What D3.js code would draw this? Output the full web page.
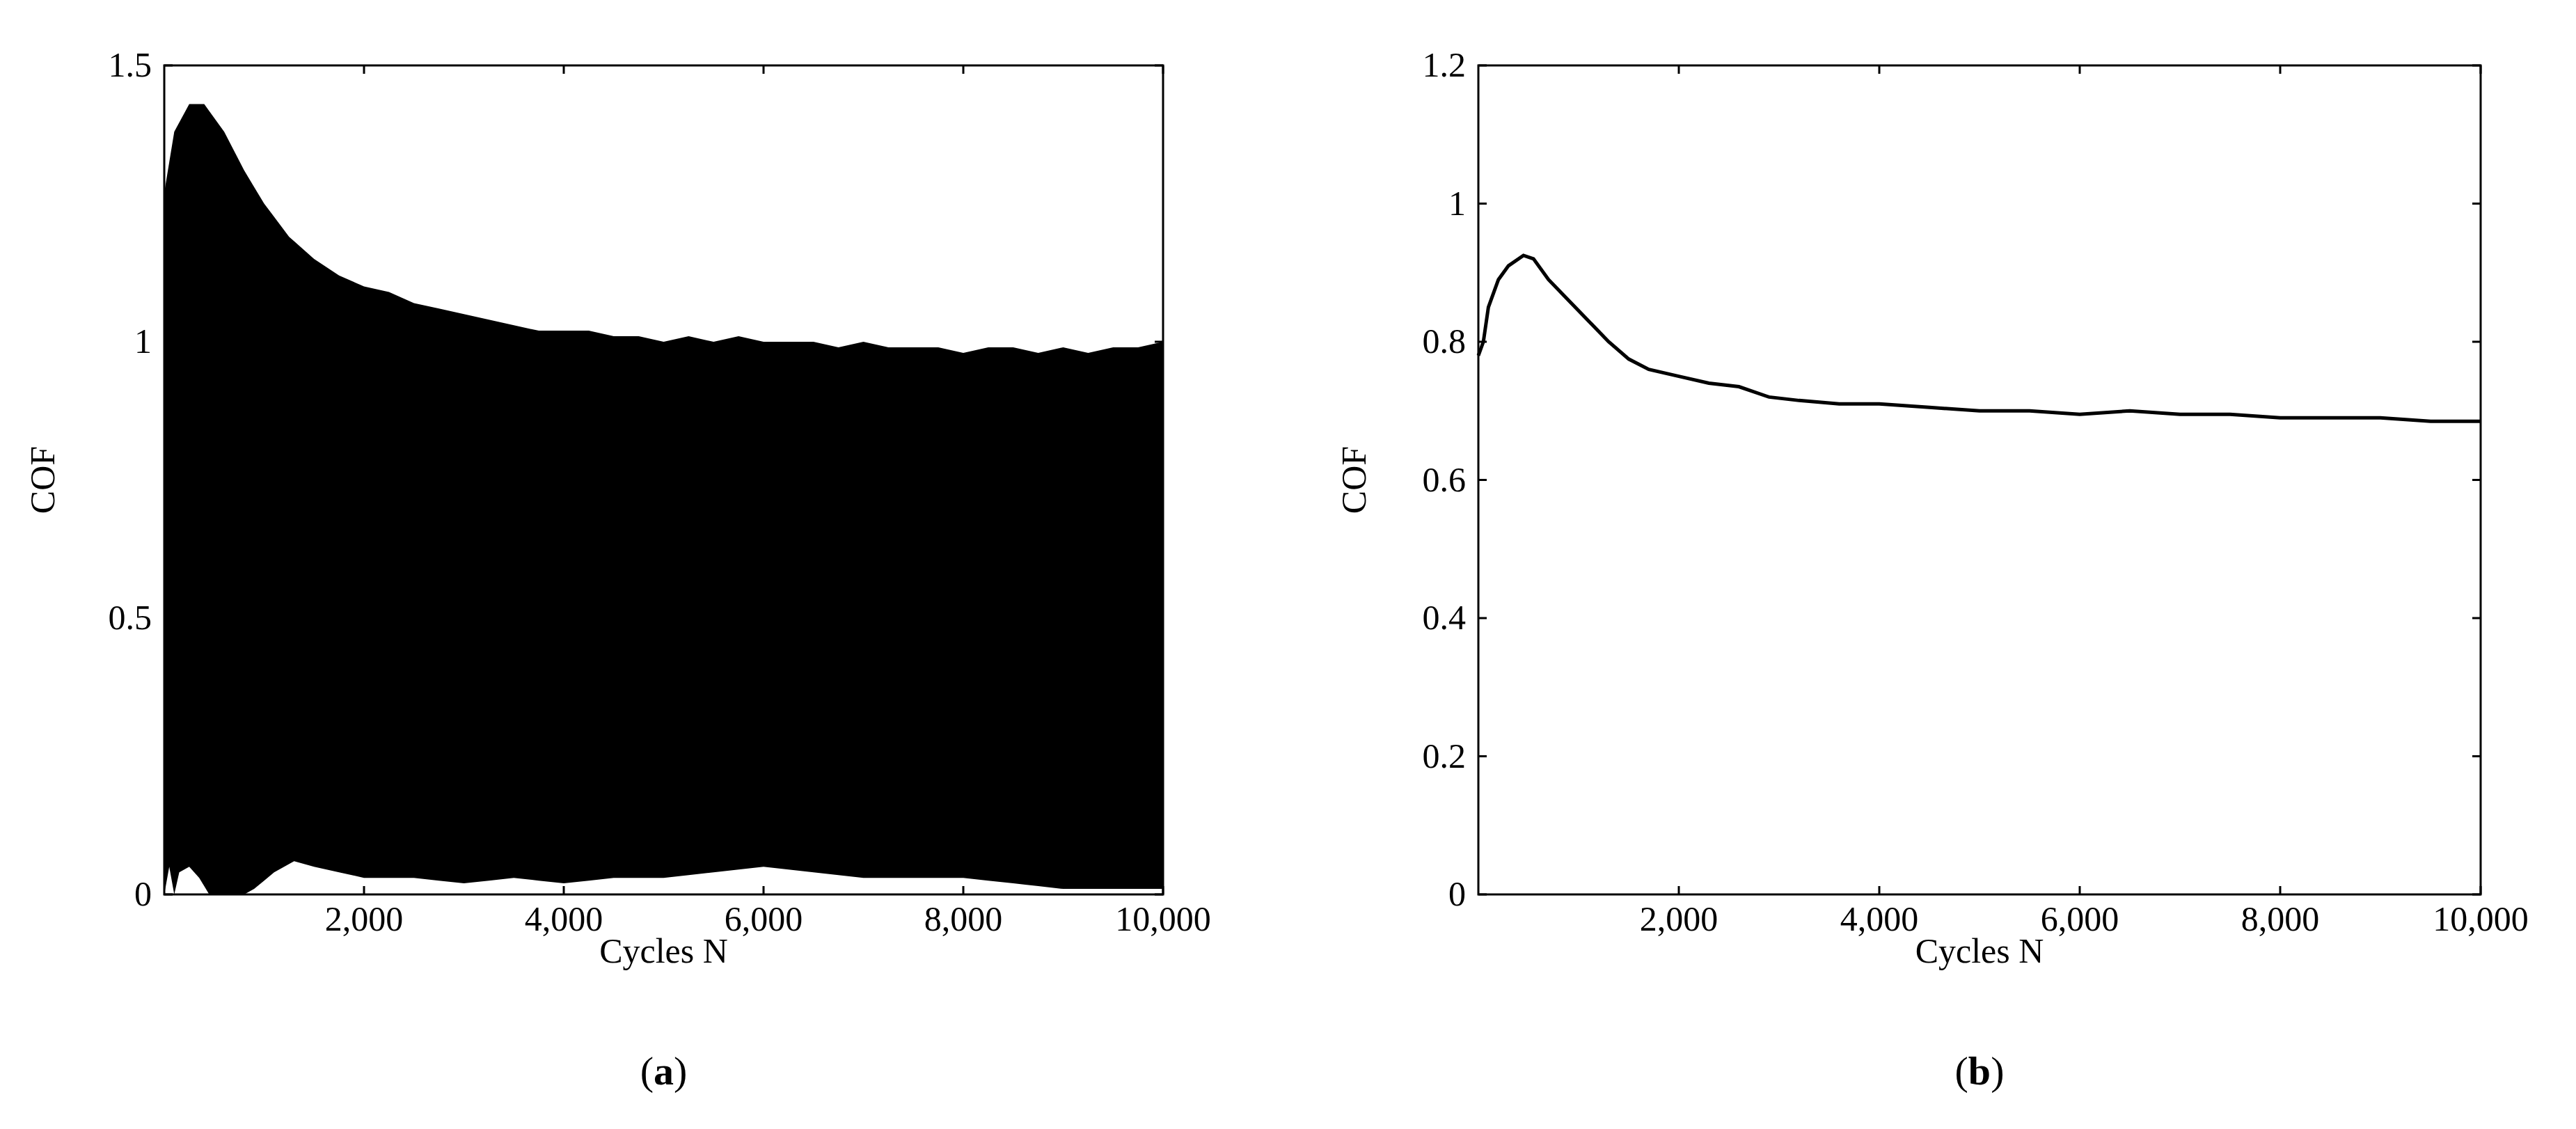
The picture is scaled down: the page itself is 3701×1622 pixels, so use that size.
<!DOCTYPE html>
<html>
<head>
<meta charset="utf-8">
<script src="https://cdn.jsdelivr.net/npm/d3@7"></script>
<style>
  body { margin: 0; background: #fff; }
  text { font-family: "Liberation Serif", serif; fill: #000; }
</style>
</head>
<body>
<svg id="chart" width="3701" height="1622"></svg>
<script>
// panel (a): upper and lower envelope of the oscillating COF
const cyclesA = [0, 100, 250, 400, 600, 800, 1000, 1250, 1500, 1750, 2000, 2250, 2500, 2750, 3000, 3250, 3500, 3750, 4000, 4250, 4500, 4750, 5000, 5250, 5500, 5750, 6000, 6250, 6500, 6750, 7000, 7250, 7500, 7750, 8000, 8250, 8500, 8750, 9000, 9250, 9500, 9750, 10000];
const upperA = [1.27, 1.38, 1.43, 1.43, 1.38, 1.31, 1.25, 1.19, 1.15, 1.12, 1.10, 1.09, 1.07, 1.06, 1.05, 1.04, 1.03, 1.02, 1.02, 1.02, 1.01, 1.01, 1.00, 1.01, 1.00, 1.01, 1.00, 1.00, 1.00, 0.99, 1.00, 0.99, 0.99, 0.99, 0.98, 0.99, 0.99, 0.98, 0.99, 0.98, 0.99, 0.99, 1.00];
const lowCycles = [0, 50, 100, 150, 250, 350, 450, 800, 900, 1100, 1300, 1500, 1750, 2000, 2500, 3000, 3500, 4000, 4500, 5000, 5500, 6000, 6500, 7000, 7500, 8000, 8500, 9000, 9500, 10000];
const lowerA = [0, 0.05, 0, 0.04, 0.05, 0.03, 0, 0, 0.01, 0.04, 0.06, 0.05, 0.04, 0.03, 0.03, 0.02, 0.03, 0.02, 0.03, 0.03, 0.04, 0.05, 0.04, 0.03, 0.03, 0.03, 0.02, 0.01, 0.01, 0.01];

// panel (b): mean COF
const cyclesB = [0, 50, 100, 200, 300, 450, 550, 700, 900, 1100, 1300, 1500, 1700, 2000, 2300, 2600, 2900, 3200, 3600, 4000, 4500, 5000, 5500, 6000, 6500, 7000, 7500, 8000, 8500, 9000, 9500, 10000];
const cofB = [0.78, 0.80, 0.85, 0.89, 0.91, 0.925, 0.92, 0.89, 0.86, 0.83, 0.80, 0.775, 0.76, 0.75, 0.74, 0.735, 0.72, 0.715, 0.71, 0.71, 0.705, 0.70, 0.70, 0.695, 0.70, 0.695, 0.695, 0.69, 0.69, 0.69, 0.685, 0.685];

const xTicks = [2000, 4000, 6000, 8000, 10000];
const yTicksA = [0, 0.5, 1, 1.5];
const yTicksB = [0, 0.2, 0.4, 0.6, 0.8, 1, 1.2];

const svg = d3.select("#chart");
const plotTop = 94, plotBottom = 1285;
const fmt = d3.format(",");

function panel(left, right, yMax, yTicks, label, labelX) {
  const g = svg.append("g");
  const x = d3.scaleLinear().domain([0, 10000]).range([left, right]);
  const y = d3.scaleLinear().domain([0, yMax]).range([plotBottom, plotTop]);
  const tk = 12;
  const marks = g.append("g");

  // frame
  g.append("rect").attr("x", left).attr("y", plotTop)
    .attr("width", right - left).attr("height", plotBottom - plotTop)
    .attr("fill", "none").attr("stroke", "#000").attr("stroke-width", 3);

  // inward ticks on all sides
  xTicks.forEach(t => {
    g.append("line").attr("x1", x(t)).attr("x2", x(t)).attr("y1", plotBottom).attr("y2", plotBottom - tk).attr("stroke", "#000").attr("stroke-width", 3);
    g.append("line").attr("x1", x(t)).attr("x2", x(t)).attr("y1", plotTop).attr("y2", plotTop + tk).attr("stroke", "#000").attr("stroke-width", 3);
    g.append("text").attr("x", x(t)).attr("y", plotBottom + 52).attr("text-anchor", "middle")
      .attr("font-size", 50).text(fmt(t));
  });
  yTicks.forEach(t => {
    g.append("line").attr("x1", left).attr("x2", left + tk).attr("y1", y(t)).attr("y2", y(t)).attr("stroke", "#000").attr("stroke-width", 3);
    g.append("line").attr("x1", right).attr("x2", right - tk).attr("y1", y(t)).attr("y2", y(t)).attr("stroke", "#000").attr("stroke-width", 3);
    g.append("text").attr("x", left - 18).attr("y", y(t) + 16).attr("text-anchor", "end")
      .attr("font-size", 50).text(t);
  });

  g.append("text").attr("x", (left + right) / 2).attr("y", plotBottom + 98).attr("text-anchor", "middle")
    .attr("font-size", 50).text("Cycles N");
  g.append("text").attr("transform", `translate(${labelX},${(plotTop + plotBottom) / 2}) rotate(-90)`)
    .attr("text-anchor", "middle").attr("font-size", 50).text("COF");
  const cap = g.append("text").attr("x", (left + right) / 2).attr("y", 1558).attr("text-anchor", "middle").attr("font-size", 58);
  cap.append("tspan").text("(");
  cap.append("tspan").attr("font-weight", "bold").text(label);
  cap.append("tspan").text(")");
  return { marks, x, y };
}

// (a) filled band between envelopes
const pa = panel(236, 1671, 1.5, yTicksA, "a", 78);
const upperFn = d3.scaleLinear().domain(cyclesA).range(upperA);
const lowerFn = d3.scaleLinear().domain(lowCycles).range(lowerA);
const allCycles = Array.from(new Set(cyclesA.concat(lowCycles))).sort((a, b) => a - b);
pa.marks.append("path")
  .datum(allCycles)
  .attr("d", d3.area()
    .x(d => pa.x(d))
    .y0(d => pa.y(lowerFn(d)))
    .y1(d => pa.y(upperFn(d))))
  .attr("fill", "#000");

// (b) line
const pb = panel(2124, 3564, 1.2, yTicksB, "b", 1962);
pb.marks.append("path")
  .datum(cyclesB.map((c, i) => [c, cofB[i]]))
  .attr("d", d3.line().x(d => pb.x(d[0])).y(d => pb.y(d[1])))
  .attr("fill", "none").attr("stroke", "#000").attr("stroke-width", 5);
</script>
</body>
</html>
